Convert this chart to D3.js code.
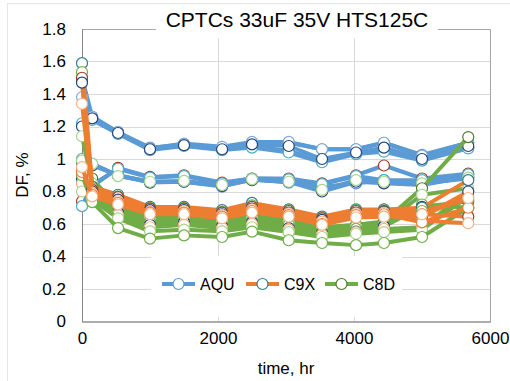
<!DOCTYPE html>
<html>
<head>
<meta charset="utf-8">
<script src="https://cdn.jsdelivr.net/npm/d3@7"></script>
<style>
  body { margin: 0; background: #fff; }
  text { font-family: "Liberation Sans", Arial, sans-serif; fill: #000; font-weight: normal; }
</style>
</head>
<body>
<svg id="chart" width="510" height="381"></svg>
<script>
var times = [0, 150, 530, 1000, 1500, 2060, 2500, 3040, 3530, 4030, 4440, 5000, 5680];

// DF, % per sample
var aquValues = [
  [1.50, 1.26, 1.165, 1.07, 1.09, 1.07, 1.10, 1.10, 1.06, 1.06, 1.10, 1.025, 1.10],
  [1.48, 1.25, 1.16, 1.06, 1.085, 1.06, 1.08, 1.05, 0.99, 1.035, 1.05, 0.995, 1.07],
  [1.38, 1.26, 1.165, 1.065, 1.095, 1.075, 1.105, 1.105, 1.06, 1.06, 1.10, 1.02, 1.10],
  [1.22, 1.24, 1.155, 1.055, 1.08, 1.055, 1.07, 1.04, 0.98, 1.03, 1.045, 0.99, 1.065],
  [1.20, 1.25, 1.16, 1.06, 1.085, 1.06, 1.09, 1.08, 1.00, 1.04, 1.07, 1.00, 1.08],
  [1.00, 0.97, 0.90, 0.86, 0.86, 0.83, 0.875, 0.855, 0.83, 0.85, 0.87, 0.85, 0.88],
  [0.98, 0.96, 0.90, 0.855, 0.86, 0.835, 0.87, 0.86, 0.80, 0.86, 0.85, 0.84, 0.89],
  [0.74, 0.83, 0.945, 0.89, 0.90, 0.855, 0.88, 0.88, 0.85, 0.90, 0.96, 0.88, 0.91],
  [0.71, 0.84, 0.94, 0.885, 0.895, 0.85, 0.88, 0.875, 0.845, 0.895, 0.87, 0.87, 0.905],
  [0.99, 0.97, 0.895, 0.86, 0.865, 0.84, 0.875, 0.86, 0.81, 0.87, 0.86, 0.85, 0.885]
];
var c9xValues = [
  [1.59, 0.83, 0.78, 0.705, 0.705, 0.685, 0.73, 0.69, 0.645, 0.69, 0.69, 0.70, 0.87],
  [1.535, 0.82, 0.77, 0.70, 0.70, 0.675, 0.715, 0.685, 0.64, 0.685, 0.685, 0.68, 0.75],
  [1.50, 0.81, 0.765, 0.695, 0.695, 0.67, 0.705, 0.68, 0.635, 0.68, 0.68, 0.66, 0.645],
  [1.47, 0.80, 0.75, 0.685, 0.685, 0.66, 0.695, 0.67, 0.625, 0.67, 0.675, 0.64, 0.80],
  [1.34, 0.79, 0.74, 0.675, 0.68, 0.655, 0.69, 0.665, 0.615, 0.665, 0.67, 0.62, 0.605],
  [0.92, 0.78, 0.73, 0.67, 0.67, 0.645, 0.68, 0.655, 0.60, 0.655, 0.66, 0.61, 0.70],
  [0.95, 0.77, 0.72, 0.66, 0.66, 0.635, 0.67, 0.645, 0.595, 0.64, 0.645, 0.66, 0.76]
];
var c8dValues = [
  [0.93, 0.88, 0.70, 0.645, 0.655, 0.625, 0.65, 0.625, 0.58, 0.595, 0.615, 0.82, 1.135],
  [1.14, 0.85, 0.69, 0.625, 0.635, 0.61, 0.635, 0.61, 0.57, 0.585, 0.60, 0.78, 0.82],
  [0.86, 0.83, 0.68, 0.61, 0.62, 0.595, 0.62, 0.595, 0.555, 0.57, 0.59, 0.72, 0.70],
  [0.88, 0.80, 0.67, 0.595, 0.61, 0.585, 0.61, 0.575, 0.545, 0.553, 0.585, 0.705, 0.74],
  [0.85, 0.77, 0.655, 0.58, 0.595, 0.575, 0.60, 0.565, 0.535, 0.55, 0.57, 0.58, 0.80],
  [0.80, 0.75, 0.635, 0.555, 0.565, 0.555, 0.58, 0.55, 0.52, 0.54, 0.55, 0.565, 0.77],
  [0.90, 0.735, 0.575, 0.51, 0.53, 0.52, 0.553, 0.50, 0.483, 0.47, 0.483, 0.52, 0.70]
];

var groupNames = ["AQU", "C9X", "C8D"];
var lineColors = ["#5b9bd5", "#ed7d31", "#70ad47"];
// excel hands every series its own marker outline
var aquMarkers = ["#5b9bd5", "#9e3a26", "#7fa9dc", "#4bacc6", "#264478", "#5b9bd5", "#264478", "#9e3a26", "#4bacc6", "#a9d18e"];
var c9xMarkers = ["#2f7b8c", "#70ad47", "#9e3a26", "#264478", "#f4b183", "#ed7d31", "#f4b183"];
var c8dMarkers = ["#4e7a2c", "#a9d18e", "#70ad47", "#264478", "#f4b183", "#a9d18e", "#70ad47"];

var yTicks = [0, 0.2, 0.4, 0.6, 0.8, 1, 1.2, 1.4, 1.6, 1.8];
var xTicks = [0, 2000, 4000, 6000];

var plot = {left: 82, right: 490, top: 29, bottom: 321.5};

var svg = d3.select("#chart");

// faint chart border
svg.append("rect")
  .attr("x", 7.5).attr("y", 3.5).attr("width", 520).attr("height", 390)
  .attr("fill", "none").attr("stroke", "#e6e6e6");

var x = d3.scaleLinear().domain([0, 6000]).range([plot.left, plot.right]);
var y = d3.scaleLinear().domain([0, 1.8]).range([plot.bottom, plot.top]);

// gridlines
svg.append("g")
  .selectAll("line.h").data(yTicks.slice(1)).enter().append("line")
  .attr("x1", plot.left).attr("x2", plot.right)
  .attr("y1", function(d) { return Math.round(y(d)) + 0.5; })
  .attr("y2", function(d) { return Math.round(y(d)) + 0.5; })
  .attr("stroke", "#d9d9d9");
svg.append("g")
  .selectAll("line.v").data(xTicks.slice(1)).enter().append("line")
  .attr("y1", plot.top).attr("y2", plot.bottom)
  .attr("x1", function(d) { return Math.round(x(d)) + 0.5; })
  .attr("x2", function(d) { return Math.round(x(d)) + 0.5; })
  .attr("stroke", "#d9d9d9");

// plot area frame
svg.append("rect")
  .attr("x", plot.left + 0.5).attr("y", plot.top + 0.5)
  .attr("width", plot.right - plot.left).attr("height", plot.bottom - plot.top)
  .attr("fill", "none").attr("stroke", "#a6a6a6");

// legend sits on top of the grid with a white box
svg.append("rect")
  .attr("x", 151).attr("y", 256).attr("width", 251).attr("height", 61)
  .attr("fill", "#fff");

// axes
var yAxis = d3.axisLeft(y).tickValues(yTicks).tickSize(0).tickPadding(16)
  .tickFormat(function(d) { return String(+d.toFixed(1)); });
svg.append("g").attr("transform", "translate(" + plot.left + ",0)").call(yAxis)
  .call(function(g) {
    g.select(".domain").attr("stroke", "#868686");
    g.selectAll("text").style("font-size", "17px");
  });

var xAxis = d3.axisBottom(x).tickValues(xTicks).tickSize(0).tickPadding(10)
  .tickFormat(d3.format("d"));
svg.append("g").attr("transform", "translate(0," + plot.bottom + ")").call(xAxis)
  .call(function(g) {
    g.select(".domain").attr("stroke", "#868686");
    g.selectAll("text").style("font-size", "17px");
  });

// series: lines then markers, in excel order
var line = d3.line()
  .x(function(d, i) { return x(times[i]); })
  .y(function(d) { return y(d); });

function drawGroup(values, color, markers) {
  values.forEach(function(vals, s) {
    var g = svg.append("g");
    g.append("path").datum(vals)
      .attr("d", line)
      .attr("fill", "none").attr("stroke", color)
      .attr("stroke-width", 4).attr("stroke-linejoin", "round");
    g.selectAll("circle").data(vals).enter().append("circle")
      .attr("cx", function(d, i) { return x(times[i]); })
      .attr("cy", function(d) { return y(d); })
      .attr("r", 5.5)
      .attr("fill", "#fff")
      .attr("stroke", markers[s % markers.length])
      .attr("stroke-width", 1.2);
  });
}
drawGroup(aquValues, lineColors[0], aquMarkers);
drawGroup(c8dValues, lineColors[2], c8dMarkers);
drawGroup(c9xValues, lineColors[1], c9xMarkers);

// title with white backing over the frame
svg.append("rect")
  .attr("x", 156).attr("y", 8).attr("width", 282).attr("height", 30)
  .attr("fill", "#fff");
svg.append("text")
  .attr("x", 297).attr("y", 27)
  .attr("text-anchor", "middle")
  .style("font-size", "21px")
  .text("CPTCs 33uF 35V HTS125C");

// axis titles
svg.append("text")
  .attr("transform", "translate(28,175) rotate(-90)")
  .attr("text-anchor", "middle")
  .style("font-size", "17px")
  .text("DF, %");
svg.append("text")
  .attr("x", 286).attr("y", 374)
  .attr("text-anchor", "middle")
  .style("font-size", "17px")
  .text("time, hr");

// legend
var legendX = [162, 246, 325];
var legendMarkers = [aquMarkers[0], c9xMarkers[0], c8dMarkers[0]];
groupNames.forEach(function(name, i) {
  var lx = legendX[i];
  svg.append("line")
    .attr("x1", lx).attr("x2", lx + 33).attr("y1", 284).attr("y2", 284)
    .attr("stroke", lineColors[i]).attr("stroke-width", 4);
  svg.append("circle")
    .attr("cx", lx + 16.5).attr("cy", 284).attr("r", 5.5)
    .attr("fill", "#fff").attr("stroke", legendMarkers[i]).attr("stroke-width", 1.2);
  svg.append("text")
    .attr("x", lx + 38).attr("y", 290)
    .style("font-size", "16px")
    .text(name);
});
</script>
</body>
</html>
